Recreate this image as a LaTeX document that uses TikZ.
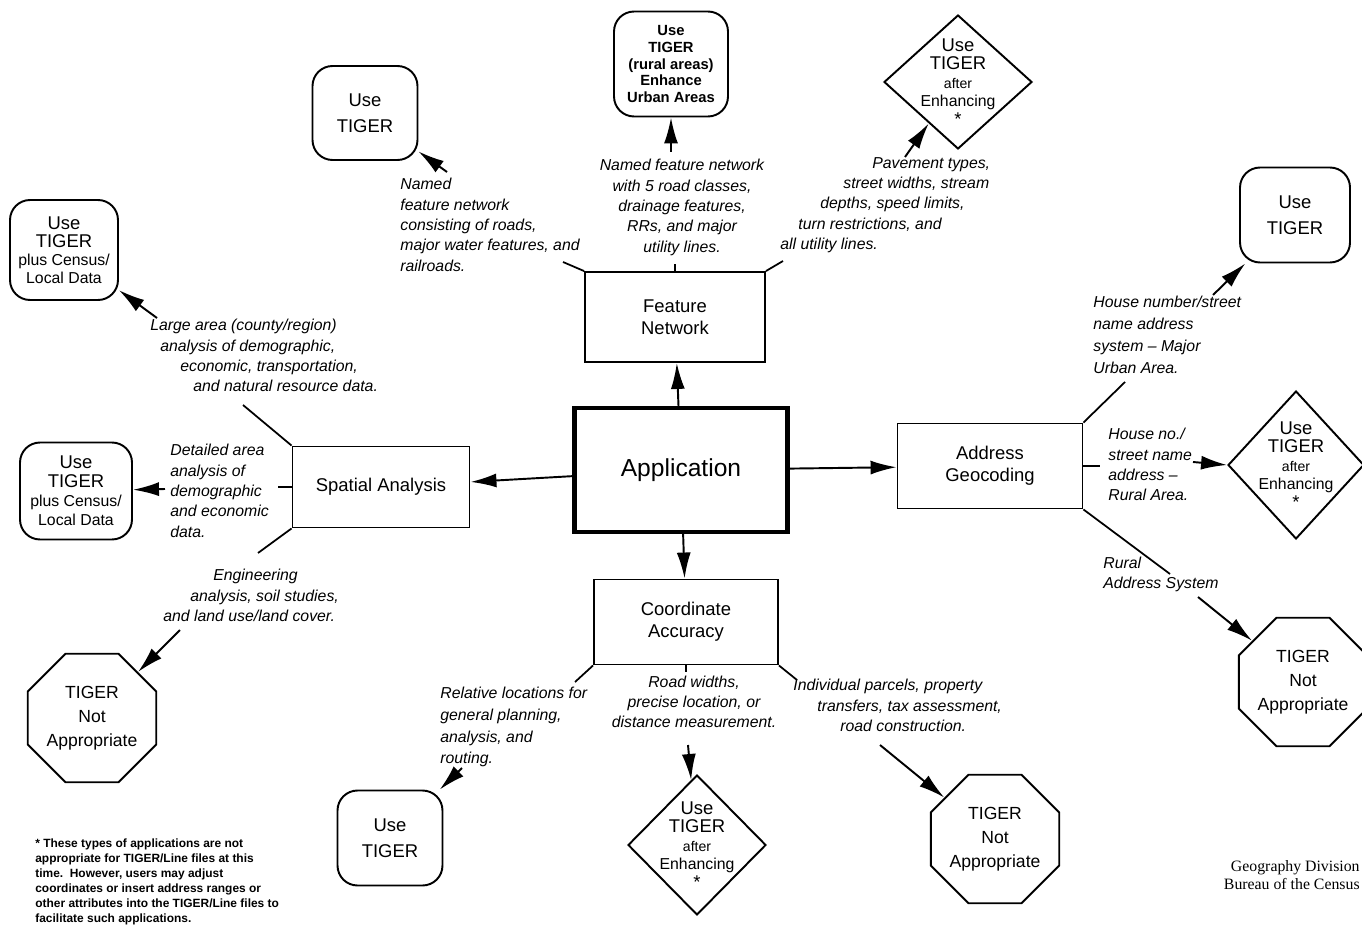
\documentclass[tikz,border=0pt]{standalone}
\usepackage{fontspec}
\setmainfont{Liberation Sans}
\newfontfamily\creditfont{Liberation Serif}
\usetikzlibrary{shapes.geometric,arrows.meta}
\begin{document}
\begin{tikzpicture}[x=0.02cm,y=-0.02cm,
  box/.style={draw,line width=1.1pt,inner sep=0pt,align=center,font=\fontsize{10.5}{12.5}\selectfont},
  rbox/.style={draw,line width=1.1pt,rounded corners=0.4cm,inner sep=0pt,align=center},
  usebox/.style={rbox,minimum width=2.1cm,minimum height=1.9cm,font=\fontsize{10.5}{14.8}\selectfont},
  oct/.style={draw,line width=1.1pt,regular polygon,regular polygon sides=8,minimum size=2.64cm,inner sep=0pt,align=center,font=\fontsize{10}{13.6}\selectfont},
  dia/.style={draw,line width=1.1pt,diamond,inner sep=0pt},
  dtext/.style={align=center,inner sep=0pt,font=\fontsize{10.5}{10.5}\selectfont},
  lab/.style={inner sep=0pt,align=left,font=\fontsize{9}{11.6}\selectfont\itshape},
  ln/.style={line width=1pt},
  arr/.style={line width=1.1pt,-{Latex[length=0.52cm,width=0.28cm]}},
]
\useasboundingbox (0,0) rectangle (1362,939);

% central boxes
\node[box,line width=2.4pt,minimum width=4.26cm,minimum height=2.48cm,font=\fontsize{14}{16}\selectfont] (app) at (681,470) {Application};
\node[box,minimum width=3.6cm,minimum height=1.8cm] (feat) at (675,317) {Feature\\Network};
\node[box,minimum width=3.54cm,minimum height=1.62cm] (spat) at (381,487) {Spatial Analysis};
\node[box,minimum width=3.7cm,minimum height=1.7cm] (addr) at (990,466) {Address\\Geocoding};
\node[box,minimum width=3.68cm,minimum height=1.7cm] (coord) at (686,622) {Coordinate\\Accuracy};

% targets
\node[usebox,minimum height=1.88cm] (t1) at (365,113) {Use\\TIGER};
\node[rbox,minimum width=2.28cm,minimum height=2.1cm,font=\fontsize{8.4}{9.6}\selectfont\bfseries] (t2) at (671,64) {Use\\TIGER\\(rural areas)\\Enhance\\Urban Areas};
\node[dia,minimum width=2.96cm,minimum height=2.68cm] (t3) at (958,82) {};
\node[dtext] (t3t) at (t3) {Use\\TIGER\\{\fontsize{8}{9}\selectfont after}\\{\fontsize{9}{10}\selectfont Enhancing}\\*};

\node[rbox,minimum width=2.16cm,minimum height=2.0cm,font=\fontsize{9}{10.3}\selectfont] (t4) at (64,250) {{\fontsize{10.5}{10.3}\selectfont Use}\\{\fontsize{10.5}{10.3}\selectfont TIGER}\\plus Census/\\Local Data};
\node[rbox,minimum width=2.24cm,minimum height=1.94cm,font=\fontsize{9}{10.8}\selectfont] (t5) at (76,491) {{\fontsize{10.5}{10.8}\selectfont Use}\\{\fontsize{10.5}{10.8}\selectfont TIGER}\\plus Census/\\Local Data};
\node[oct] (t6) at (92,718) {TIGER\\Not\\Appropriate};

\node[usebox,minimum width=2.2cm] (t7) at (1295,215) {Use\\TIGER};
\node[dia,minimum width=2.72cm,minimum height=2.96cm] (t8) at (1296,465) {};
\node[dtext] (t8t) at (t8) {Use\\TIGER\\{\fontsize{8}{9}\selectfont after}\\{\fontsize{9}{10}\selectfont Enhancing}\\*};
\node[oct] (t9) at (1303,682) {TIGER\\Not\\Appropriate};

\node[usebox] (t10) at (390,838) {Use\\TIGER};
\node[dia,minimum width=2.76cm,minimum height=2.8cm] (t11) at (697,845) {};
\node[dtext] (t11t) at (t11) {Use\\TIGER\\{\fontsize{8}{9}\selectfont after}\\{\fontsize{9}{10}\selectfont Enhancing}\\*};
\node[oct] (t12) at (995,839) {TIGER\\Not\\Appropriate};

% labels
\node[lab,anchor=north west] (l1) at (400,178) {Named\\feature network\\consisting of roads,\\major water features, and\\railroads.};
\node[lab,align=center,anchor=north] (l2) at (682,159) {Named feature network\\with 5 road classes,\\drainage features,\\RRs, and major\\utility lines.};
\node[lab,anchor=north west] (l3) at (780,157) {\hspace*{1.84cm}Pavement types,\\\hspace*{1.26cm}street widths, stream\\\hspace*{0.8cm}depths, speed limits,\\\hspace*{0.36cm}turn restrictions, and\\all utility lines.};
\node[lab,anchor=north west] (l4) at (150,319) {Large area (county/region)\\\hspace*{0.2cm}analysis of demographic,\\\hspace*{0.6cm}economic, transportation,\\\hspace*{0.86cm}and natural resource data.};
\node[lab,anchor=north west] (l5) at (170,444) {Detailed area\\analysis of\\demographic\\and economic\\data.};
\node[lab,anchor=north west] (l6) at (163,569) {\hspace*{1.0cm}Engineering\\\hspace*{0.54cm}analysis, soil studies,\\and land use/land cover.};
\node[lab,anchor=north west,font=\fontsize{9}{12.5}\selectfont\itshape] (l7) at (1093,296) {House number/street\\name address\\system -- Major\\Urban Area.};
\node[lab,anchor=north west] (l8) at (1108,428) {House no./\\street name\\address --\\Rural Area.};
\node[lab,anchor=north west,font=\fontsize{9}{11.4}\selectfont\itshape] (l9) at (1103,557) {Rural\\Address System};
\node[lab,anchor=north west,font=\fontsize{9}{12.3}\selectfont\itshape] (l10) at (440,687) {Relative locations for\\general planning,\\analysis, and\\routing.};
\node[lab,align=center,anchor=north,font=\fontsize{9}{11.2}\selectfont\itshape] (l11) at (694,676) {Road widths,\\precise location, or\\distance measurement.};
\node[lab,anchor=north west] (l12) at (793,679) {Individual parcels, property\\\hspace*{0.48cm}transfers, tax assessment,\\\hspace*{0.94cm}road construction.};

% application arrows
\draw[arr] (app) -- (feat);
\draw[arr] (app) -- (spat);
\draw[arr] (app) -- (addr);
\draw[arr] (app) -- (coord);

% feature network branches
\coordinate (c1) at (563,262);
\coordinate (c2) at (675,264);
\coordinate (c3) at (783,261);
\draw[ln] (feat.north west) -- (c1);
\draw[ln] (feat.north) -- (c2);
\draw[ln] (feat.north east) -- (c3);
\coordinate (s1) at (447,172);
\coordinate (s2) at (671,152);
\coordinate (s3) at (905,157);
\draw[arr] (s1) -- (t1);
\draw[arr] (s2) -- (t2);
\draw[arr] (s3) -- (t3);

% spatial analysis branches
\coordinate (c4) at (243,405);
\coordinate (c5) at (278,487);
\coordinate (c6) at (258,553);
\draw[ln] (spat.north west) -- (c4);
\draw[ln] (spat.west) -- (c5);
\draw[ln] (spat.south west) -- (c6);
\coordinate (s4) at (157,318);
\coordinate (s5) at (165,489);
\coordinate (s6) at (180,630);
\draw[arr] (s4) -- (t4);
\draw[arr] (s5) -- (t5);
\draw[arr] (s6) -- (t6);

% address geocoding branches
\coordinate (c7) at (1125,382);
\coordinate (c8) at (1100,466);
\coordinate (c9) at (1170,574);
\draw[ln] (addr.north east) -- (c7);
\draw[ln] (addr.east) -- (c8);
\draw[ln] (addr.south east) -- (c9);
\coordinate (s7) at (1213,295);
\coordinate (s8) at (1193,462);
\coordinate (s9) at (1198,597);
\draw[arr] (s7) -- (t7);
\draw[arr] (s8) -- (t8.west);
\draw[arr] (s9) -- (t9);

% coordinate accuracy branches
\coordinate (c10) at (575,682);
\coordinate (c11) at (686,672);
\coordinate (c12) at (797,680);
\draw[ln] (coord.south west) -- (c10);
\draw[ln] (coord.south) -- (c11);
\draw[ln] (coord.south east) -- (c12);
\coordinate (s10) at (462,768);
\coordinate (s11) at (688,745);
\coordinate (s12) at (880,745);
\draw[arr] (s10) -- (t10);
\draw[arr] (s11) -- (t11);
\draw[arr] (s12) -- (t12);

% footnote and credit
\node[inner sep=0pt,align=left,anchor=north west,font=\fontsize{6.8}{8.6}\selectfont\bfseries] (note) at (35,838) {* These types of applications are not\\appropriate for TIGER/Line files at this\\time.\ \ However, users may adjust\\coordinates or insert address ranges or\\other attributes into the TIGER/Line files to\\facilitate such applications.};
\node[inner sep=0pt,align=right,anchor=north east,font=\creditfont\fontsize{9}{10.2}\selectfont] (credit) at (1360,860) {Geography Division\\Bureau of the Census};
\end{tikzpicture}
\end{document}
